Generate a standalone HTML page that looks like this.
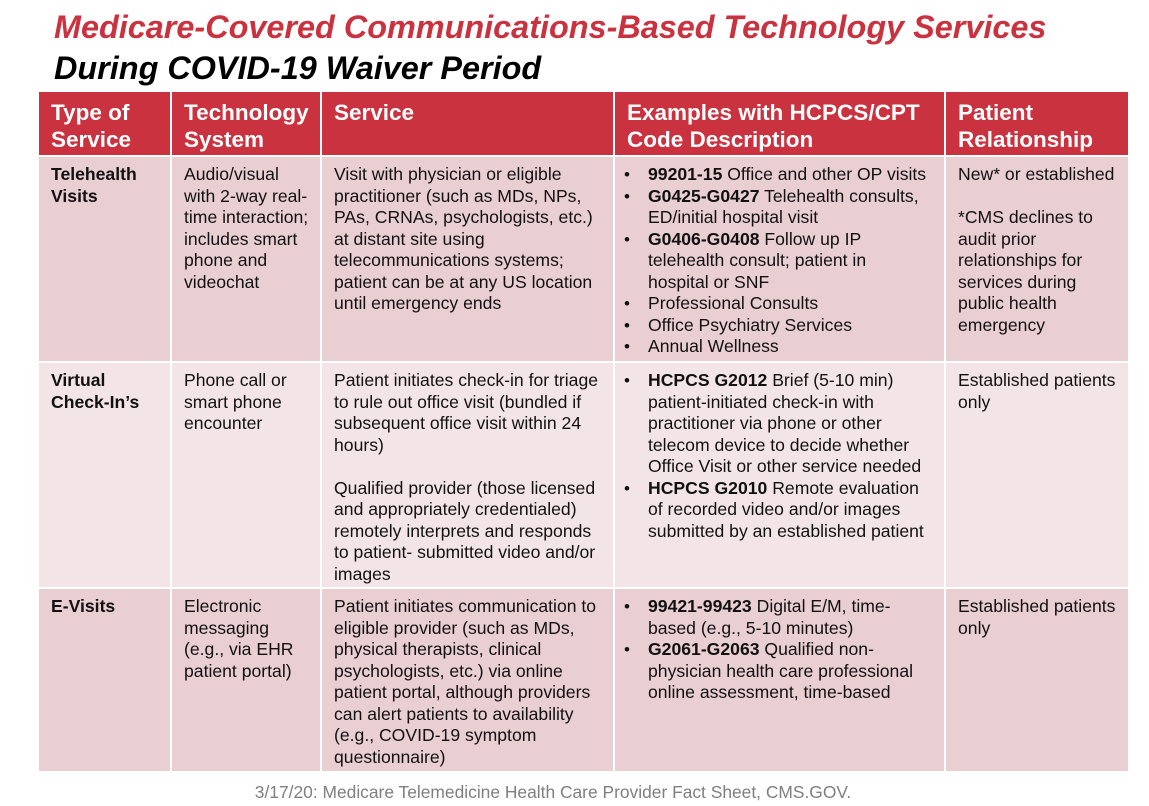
<!DOCTYPE html>
<html><head><style>
body{margin:0;width:1149px;height:806px;background:#fff;position:relative;overflow:hidden;font-family:"Liberation Sans",Arial,sans-serif}
.t{position:absolute;left:54px;font-weight:bold;font-style:italic;font-size:32.4px;white-space:nowrap}
.c{position:absolute;box-sizing:border-box;padding:7px 10px 0 12px;font-size:17.6px;line-height:21.5px;color:#111}
.h{background:#c9323e;color:#fff;font-weight:bold;font-size:22.5px;line-height:27px;padding:7px 8px 0 12px}
.r1{background:#e9ced2}.r2{background:#f3e5e7}
ul{margin:0;padding:0 0 0 23px;list-style:none}
li{position:relative}
li:before{content:"•";position:absolute;left:-24px;font-size:17px}
p{margin:0}
</style></head><body>
<div class="t" style="top:9px;color:#c9323e">Medicare-Covered Communications-Based Technology Services</div>
<div class="t" style="top:50px;color:#000">During COVID-19 Waiver Period</div>

<div class="c h" style="left:39px;top:92px;width:131px;height:63px">Type of Service</div>
<div class="c h" style="left:172px;top:92px;width:148px;height:63px">Technology System</div>
<div class="c h" style="left:322px;top:92px;width:291px;height:63px">Service</div>
<div class="c h" style="left:615px;top:92px;width:329px;height:63px">Examples with HCPCS/CPT Code Description</div>
<div class="c h" style="left:946px;top:92px;width:182px;height:63px">Patient Relationship</div>

<div class="c r1" style="left:39px;top:157px;width:131px;height:204px"><b>Telehealth Visits</b></div>
<div class="c r1" style="left:172px;top:157px;width:148px;height:204px">Audio/visual with 2-way real-time interaction; includes smart phone and videochat</div>
<div class="c r1" style="left:322px;top:157px;width:291px;height:204px">Visit with physician or eligible practitioner (such as MDs, NPs, PAs, CRNAs, psychologists, etc.) at distant site using telecommunications systems; patient can be at any US location until emergency ends</div>
<div class="c r1" style="left:615px;top:157px;width:329px;height:204px;padding-left:10px;padding-right:12px"><ul><li><b>99201-15</b> Office and other OP visits</li><li><b>G0425-G0427</b> Telehealth consults, ED/initial hospital visit</li><li><b>G0406-G0408</b> Follow up IP telehealth consult; patient in<br>hospital or SNF</li><li>Professional Consults</li><li>Office Psychiatry Services</li><li>Annual Wellness</li></ul></div>
<div class="c r1" style="left:946px;top:157px;width:182px;height:204px">New* or established<br><br>*CMS declines to audit prior relationships for services during public health emergency</div>

<div class="c r2" style="left:39px;top:363px;width:131px;height:224px"><b>Virtual Check-In’s</b></div>
<div class="c r2" style="left:172px;top:363px;width:148px;height:224px">Phone call or smart phone encounter</div>
<div class="c r2" style="left:322px;top:363px;width:291px;height:224px">Patient initiates check-in for triage to rule out office visit (bundled if subsequent office visit within 24 hours)<br><br>Qualified provider (those licensed and appropriately credentialed) remotely interprets and responds to patient- submitted video and/or images</div>
<div class="c r2" style="left:615px;top:363px;width:329px;height:224px;padding-left:10px"><ul><li><b>HCPCS G2012</b> Brief (5-10 min) patient-initiated check-in with practitioner via phone or other telecom device to decide whether Office Visit or other service needed</li><li><b>HCPCS G2010</b> Remote evaluation of recorded video and/or images submitted by an established patient</li></ul></div>
<div class="c r2" style="left:946px;top:363px;width:182px;height:224px">Established patients only</div>

<div class="c r1" style="left:39px;top:589px;width:131px;height:182px"><b>E-Visits</b></div>
<div class="c r1" style="left:172px;top:589px;width:148px;height:182px">Electronic messaging (e.g., via EHR patient portal)</div>
<div class="c r1" style="left:322px;top:589px;width:291px;height:182px">Patient initiates communication to eligible provider (such as MDs, physical therapists, clinical psychologists, etc.) via online patient portal, although providers can alert patients to availability (e.g., COVID-19 symptom questionnaire)</div>
<div class="c r1" style="left:615px;top:589px;width:329px;height:182px;padding-left:10px"><ul><li><b>99421-99423</b> Digital E/M, time-based (e.g., 5-10 minutes)</li><li><b>G2061-G2063</b> Qualified non-physician health care professional online assessment, time-based</li></ul></div>
<div class="c r1" style="left:946px;top:589px;width:182px;height:182px">Established patients only</div>

<div style="position:absolute;left:0;width:1106px;top:782px;text-align:center;color:#7f7f7f;font-size:17.4px">3/17/20: Medicare Telemedicine Health Care Provider Fact Sheet, CMS.GOV.</div>
</body></html>
